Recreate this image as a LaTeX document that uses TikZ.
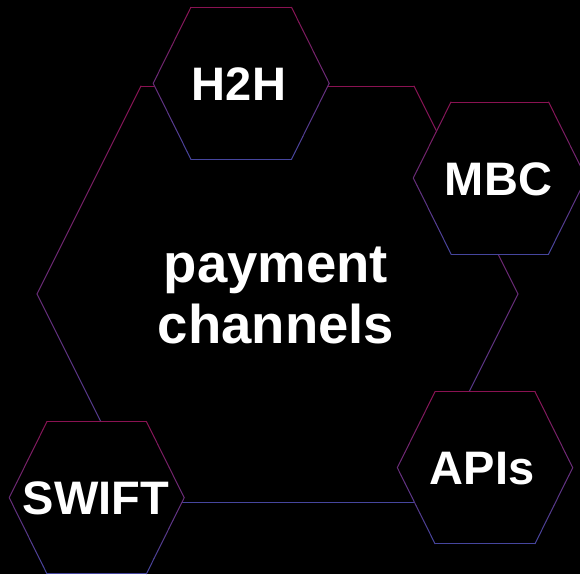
\documentclass[tikz,border=0pt]{standalone}
\usepackage{fontspec}
\setmainfont{Liberation Sans}
\definecolor{hexA}{HTML}{8A1252}
\definecolor{hexB}{HTML}{46469E}
\tikzset{
  hexline/.style={line width=1pt,line cap=round},
  lbl/.style={text=white,font=\fontsize{47}{56}\selectfont\bfseries,inner sep=0pt},
  biglbl/.style={text=white,font=\fontsize{54.5}{61}\selectfont\bfseries,inner sep=0pt,align=center}
}
% cx cy halfwidth offset halfheight
\newcommand\gradhex[5]{%
  \pgfmathsetmacro\hxL{#1-#3}\pgfmathsetmacro\hxR{#1+#3}%
  \pgfmathsetmacro\hxTL{#1-#3+#4}\pgfmathsetmacro\hxTR{#1+#3-#4}%
  \pgfmathsetmacro\hxT{#2-#5}\pgfmathsetmacro\hxB{#2+#5}%
  \fill[black] (\hxL,#2)--(\hxTL,\hxT)--(\hxTR,\hxT)--(\hxR,#2)--(\hxTR,\hxB)--(\hxTL,\hxB)--cycle;
  \draw[hexline,draw=hexA] (\hxTL,\hxT)--(\hxTR,\hxT);
  \draw[hexline,draw=hexB] (\hxTL,\hxB)--(\hxTR,\hxB);
  \foreach \i in {1,...,20}{%
    \pgfmathsetmacro\ta{(\i-1)/20}\pgfmathsetmacro\tb{\i/20}%
    \pgfmathtruncatemacro\pc{round(100*(\i-0.5)/20)}%
    \colorlet{segc}{hexB!\pc!hexA}%
    \pgfmathsetmacro\ya{#2-#5+2*#5*\ta}\pgfmathsetmacro\yb{#2-#5+2*#5*\tb}%
    \pgfmathsetmacro\xa{#4*abs(1-2*\ta)}\pgfmathsetmacro\xb{#4*abs(1-2*\tb)}%
    \draw[hexline,draw=segc] (#1-#3+\xa,\ya)--(#1-#3+\xb,\yb);
    \draw[hexline,draw=segc] (#1+#3-\xa,\ya)--(#1+#3-\xb,\yb);
  }%
}
\begin{document}
\begin{tikzpicture}[x=1pt,y=-1pt]
\fill[black] (0,0) rectangle (580,574);
\useasboundingbox (0,0) rectangle (580,574);
% big hexagon
\gradhex{277.5}{294}{240.5}{104}{208}
% small hexagons
\gradhex{241.2}{83.3}{88}{37.7}{76}
\gradhex{499.8}{178}{86.5}{37.7}{76}
\gradhex{485}{467.7}{87.7}{37.7}{76}
\gradhex{96.7}{497.7}{87.5}{37.7}{76}
\node[biglbl] (pc) at (276,295.5) {payment\\channels};
\node[lbl] (h2h) at (239,84.2) {H2H};
\node[lbl] (mbc) at (498.5,179) {MBC};
\node[lbl] (apis) at (482,468.8) {APIs};
\node[lbl] (swift) at (95.8,498.5) {SWIFT};
\end{tikzpicture}
\end{document}
